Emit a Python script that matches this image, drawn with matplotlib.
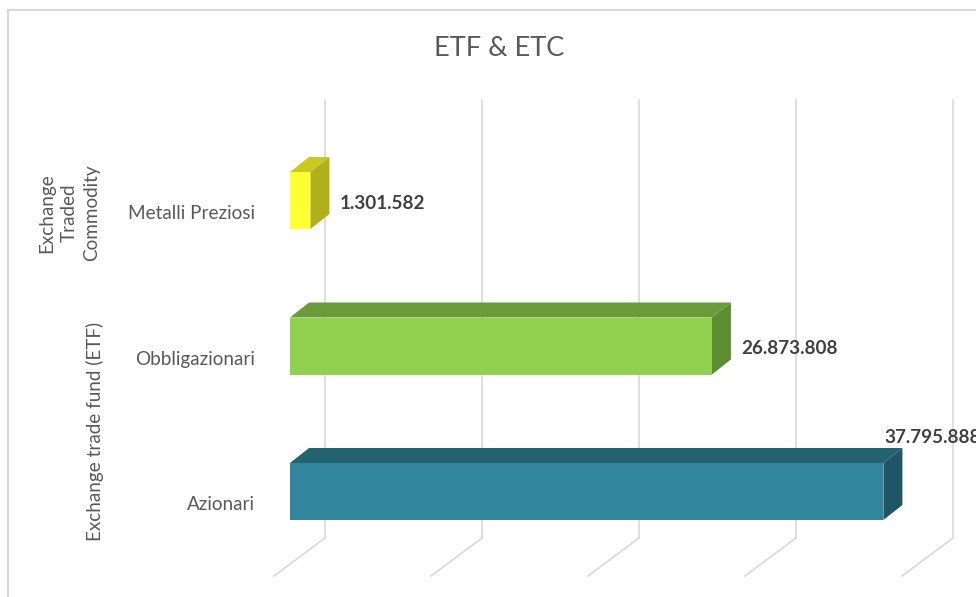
import matplotlib
matplotlib.use('Agg')
import matplotlib.pyplot as plt
from matplotlib.patches import Polygon

# data
categories = ['Azionari', 'Obbligazionari', 'Metalli Preziosi']
values = [37795888, 26873808, 1301582]
value_labels = ['37.795.888', '26.873.808', '1.301.582']
groups = ['Exchange trade fund (ETF)', 'Exchange\nTraded\nCommodity']
grid_ticks = [0, 10e6, 20e6, 30e6, 40e6]

front_colors = ['#31859C', '#92D050', '#FFFF33']
top_colors = ['#23626F', '#6A9B3A', '#C9C922']
side_colors = ['#1F5666', '#5E8C30', '#B0B01A']

W, H = 976, 597
PX_PER_UNIT = 15.7 / 1e6      # px per value unit
ZERO_PX = 290                 # pixel x of value 0 on bar plane
ROW_PX = 145.5                # pixel distance between categories
ROW0_PX = 491.5               # pixel y (from top) of first category center

plt.rcParams['font.family'] = ['Lato', 'DejaVu Sans']

fig = plt.figure(figsize=(W / 100, H / 100), dpi=100)
ax = fig.add_axes([0, 0, 1, 1])
ax.set_xlim(-ZERO_PX / PX_PER_UNIT, (W - ZERO_PX) / PX_PER_UNIT)
ax.set_ylim((ROW0_PX - H) / ROW_PX, ROW0_PX / ROW_PX)
ax.axis('off')


def dx(px):
    return px / PX_PER_UNIT


def dy(px):
    return px / ROW_PX


# walls / gridlines
wall_top, wall_bot = dy(ROW0_PX - 100), dy(ROW0_PX - 538)
for t in grid_ticks:
    xb = t + dx(35)
    ax.plot([xb, xb], [wall_bot, wall_top], color='#D9D9D9', lw=1.2, zorder=1)
    ax.plot([xb, xb - dx(51)], [wall_bot, wall_bot - dy(38)], color='#D9D9D9', lw=1.2, zorder=1)

# 3d bars
bh = dy(57) / 2
ox, oy = dx(19), dy(15)
for i, (v, fc, tc, sc) in enumerate(zip(values, front_colors, top_colors, side_colors)):
    y0, y1 = i - bh, i + bh
    ax.add_patch(Polygon([(0, y1), (ox, y1 + oy), (v + ox, y1 + oy), (v, y1)],
                         closed=True, fc=tc, ec='none', zorder=3))
    ax.add_patch(Polygon([(v, y0), (v, y1), (v + ox, y1 + oy), (v + ox, y0 + oy)],
                         closed=True, fc=sc, ec='none', zorder=3))
    ax.add_patch(Polygon([(0, y0), (0, y1), (v, y1), (v, y0)],
                         closed=True, fc=fc, ec='none', zorder=4))

    # value label
    if i == 0:
        ax.text(v + dx(1), i + dy(54), value_labels[i], ha='left', va='center',
                fontsize=13.6, fontweight='bold', color='#404040', zorder=5)
    else:
        ax.text(v + ox + dx(10), i - dy(3), value_labels[i], ha='left', va='center',
                fontsize=13.6, fontweight='bold', color='#404040', zorder=5)

    # category label
    ax.text(-dx(ZERO_PX - 255), i - dy(13), categories[i], ha='right', va='center',
            fontsize=13.6, color='#595959')

# group labels
ax.text(-dx(ZERO_PX - 95), dy(ROW0_PX - 431), groups[0], rotation=90, ha='center',
        va='center', fontsize=13.6, color='#595959')
ax.text(-dx(ZERO_PX - 69), dy(ROW0_PX - 213), groups[1], rotation=90, ha='center',
        va='center', fontsize=13.6, color='#595959', linespacing=1.4, multialignment='center')

# title
fig.text(499 / W, 1 - 48 / H, 'ETF & ETC', ha='center', va='center',
         fontsize=19.5, color='#595959')

# chart border (left + top, cropped)
fig.add_artist(plt.Line2D([8 / W, 8 / W], [0, 1 - 10 / H], color='#D9D9D9', lw=1.5))
fig.add_artist(plt.Line2D([8 / W, 1], [1 - 10 / H, 1 - 10 / H], color='#D9D9D9', lw=1.5))

fig.savefig('out.png', dpi=100)
